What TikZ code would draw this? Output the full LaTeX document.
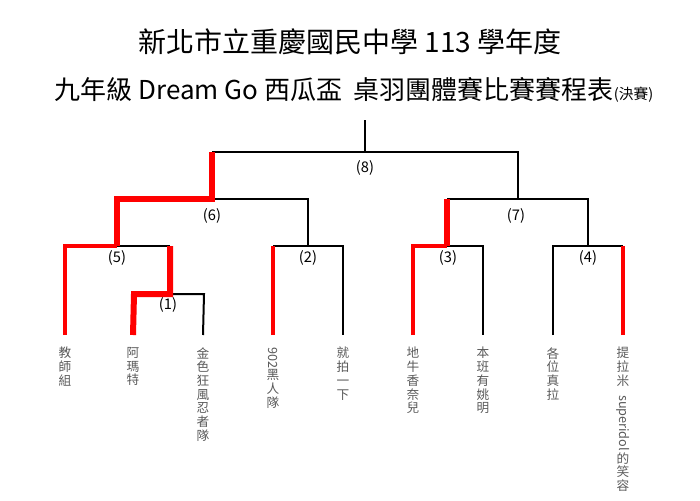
\documentclass[tikz,border=0pt]{standalone}
\usepackage{fontspec}
\setmainfont{Noto Sans CJK TC}
\newfontfamily\titlefont{Noto Sans CJK TC}
\usetikzlibrary{positioning}
\tikzset{
  bk/.style={line width=1.5pt,black},
  rd/.style={line width=4.5pt,red},
  rdleaf/.style={line width=3pt,red},
  score/.style={font=\fontsize{11}{12}\selectfont},
  team/.style={anchor=north,align=center,text=black!65,inner sep=0pt,
    font=\fontsize{9.5}{10.3}\selectfont},
}
\newcommand{\rot}[1]{\rotatebox{-90}{#1}}
\begin{document}
\begin{tikzpicture}[x=0.75pt,y=-0.75pt]
\useasboundingbox (0,0) rectangle (700,500);
%titles
\node (t1) at (350,42) {\titlefont\fontsize{21}{24}\selectfont 新北市立重慶國民中學 113 學年度};
\node (t2) at (354,90) {\titlefont\fontsize{19.5}{22}\selectfont 九年級 Dream Go 西瓜盃\ \ 桌羽團體賽比賽賽程表{\fontsize{11}{12}\selectfont (決賽)}};
%leaves
\foreach \x/\n in {65/a,133/b,203/c,273/d,343/e,413/f,483/g,553/h,623/i}
  \coordinate (\n) at (\x,335);
%black frame
\draw[bk] (365,120) -- (365,152);
\draw[bk] (212,152) -- (518,152) -- (518,199);
\draw[bk] (212,199) -- (308,199) -- (308,246);
\draw[bk] (447,199) -- (588,199) -- (588,246);
\draw[bk] (117,246) -- (170,246);
\draw[bk] (170,294) -- (204,294) -- (c);
\draw[bk] (273,246) -- (343,246) -- (e);
\draw[bk] (447,246) -- (483,246) -- (g);
\draw[bk] (h) -- (553,246) -- (623,246);
%red winners
\draw[rd,line join=miter] (212,152) -- (212,199) -- (117,199) -- (117,246);
\draw[rdleaf] (a) -- (65,246) -- (117,246);
\draw[rd] (170,246) -- (170,294) -- (134,294) -- (b);
\draw[rdleaf] (d) -- (273,246);
\draw[rd] (447,199) -- (447,246);
\draw[rdleaf] (f) -- (413,246) -- (447,246);
\draw[rdleaf] (i) -- (623,246);
%match numbers
\node[score] (m8) at (365,168) {(8)};
\node[score] (m6) at (212,216) {(6)};
\node[score] (m7) at (516,216) {(7)};
\node[score] (m5) at (117,258) {(5)};
\node[score] (m1) at (168,305) {(1)};
\node[score] (m2) at (308,258) {(2)};
\node[score] (m3) at (448,258) {(3)};
\node[score] (m4) at (588,258) {(4)};
%teams
\node[team] (na) at (65,347) {教\\師\\組};
\node[team] (nb) at (133,347) {阿\\瑪\\特};
\node[team] (nc) at (203,347) {金\\色\\狂\\風\\忍\\者\\隊};
\node[team] (nd) at (273,347) {\rot{902}\\黑\\人\\隊};
\node[team] (ne) at (343,347) {就\\拍\\一\\下};
\node[team] (nf) at (413,347) {地\\牛\\香\\奈\\兒};
\node[team] (ng) at (483,347) {本\\班\\有\\姚\\明};
\node[team] (nh) at (553,347) {各\\位\\真\\拉};
\node[team] (ni) at (623,347) {提\\拉\\米\\[-3pt]\rot{superidol}\\的\\笑\\容};
\end{tikzpicture}
\end{document}
